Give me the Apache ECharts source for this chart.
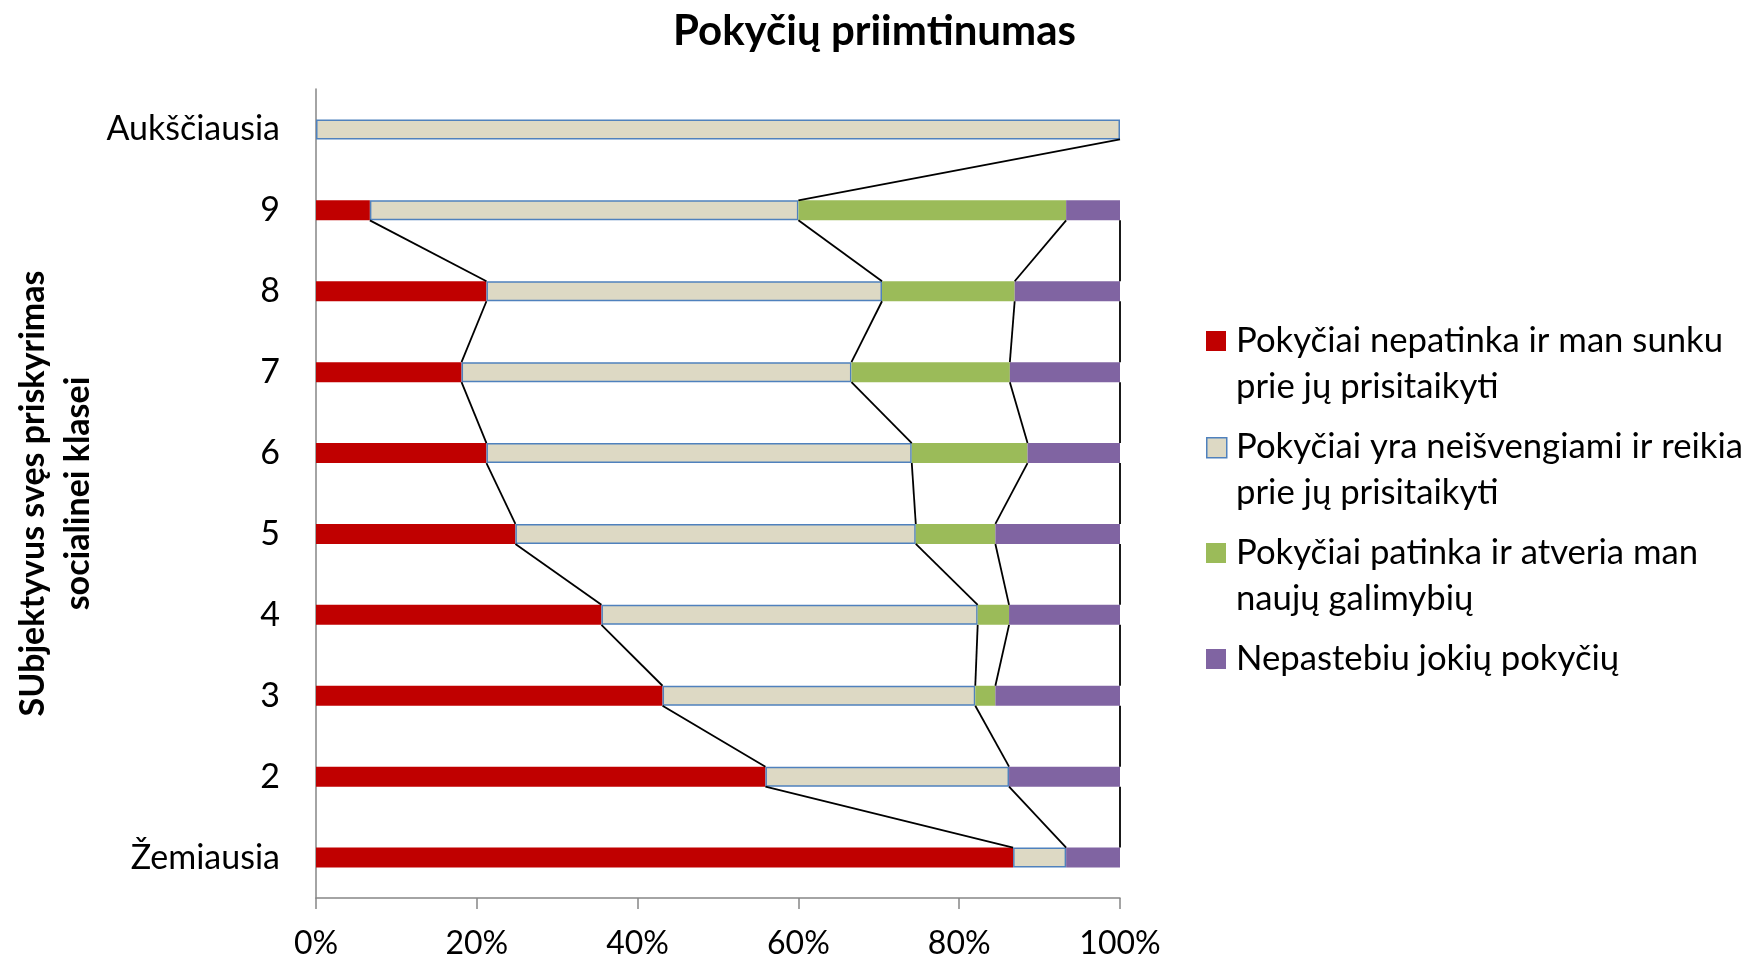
<!DOCTYPE html>
<html>
<head>
<meta charset="utf-8">
<script src="https://cdn.jsdelivr.net/npm/echarts@6/dist/echarts.min.js"></script>
<style>
  html, body { margin: 0; padding: 0; background: #fff; }
  #chart { width: 1749px; height: 963px; }
</style>
</head>
<body>
<div id="chart"></div>
<script>
const categories = ['Žemiausia', '2', '3', '4', '5', '6', '7', '8', '9', 'Aukščiausia']
const xTicks = [0, 20, 40, 60, 80, 100]

const seriesNames = [
  'Pokyčiai nepatinka ir man sunku\nprie jų prisitaikyti',
  'Pokyčiai yra neišvengiami ir reikia\nprie jų prisitaikyti',
  'Pokyčiai patinka ir atveria man\nnaujų galimybių',
  'Nepastebiu jokių pokyčių'
]

// procentai, nuo apačios (Žemiausia) iki viršaus (Aukščiausia)
const dislike = [86.7, 55.9, 43.1, 35.5, 24.8, 21.2, 18.1, 21.2, 6.7, 0]
const inevitable = [6.6, 30.3, 38.9, 46.8, 49.8, 52.9, 48.5, 49.2, 53.3, 100]
const like = [0, 0, 2.5, 3.9, 9.9, 14.4, 19.7, 16.5, 33.3, 0]
const noChange = [6.7, 13.8, 15.5, 13.8, 15.5, 11.5, 13.7, 13.1, 6.7, 0]

const colors = ['#C00000', '#DDD9C4', '#9BBB59', '#8064A2']
const FONT = 'Lato, "Open Sans", sans-serif'
const BAR_H = 20

const values = [dislike, inevitable, like, noChange]

// series lines (kaip Excel): jungia kiekvieno segmento galą tarp gretimų stulpelių
const connectors = []
values.forEach((vals, s) => {
  for (let i = 0; i < categories.length - 1; i++) {
    if (vals[i] > 0 && vals[i + 1] > 0) {
      let lo = 0, hi = 0
      for (let k = 0; k <= s; k++) {
        lo += values[k][i]
        hi += values[k][i + 1]
      }
      connectors.push([lo, hi, i])
    }
  }
})

const chart = echarts.init(document.getElementById('chart'))

const barSeries = values.map((vals, s) => ({
  name: seriesNames[s],
  type: 'bar',
  stack: 'total',
  barWidth: BAR_H,
  data: vals,
  itemStyle: s === 1
    ? { color: colors[s], borderColor: '#4F81BD', borderWidth: 1.5 }
    : { color: colors[s] },
  emphasis: { disabled: true },
  z: 2
}))

// legenda su žymekliu prie pirmos eilutės
const legendItems = []
const legendTop = 331
const legendPitch = 106
seriesNames.forEach((name, s) => {
  const y = legendTop + s * legendPitch
  legendItems.push({
    type: 'rect',
    left: 1206,
    top: y,
    shape: { width: 20, height: 20 },
    style: s === 1
      ? { fill: colors[s], stroke: '#4F81BD', lineWidth: 1.5 }
      : { fill: colors[s] }
  })
  legendItems.push({
    type: 'text',
    left: 1236,
    top: y - 13,
    style: {
      text: name,
      font: '34.7px ' + FONT,
      fill: '#000',
      lineHeight: 46
    }
  })
})

chart.setOption({
  backgroundColor: '#fff',
  animation: false,
  title: {
    text: 'Pokyčių priimtinumas',
    left: 'center',
    top: 5,
    textStyle: { fontFamily: FONT, fontSize: 42, fontWeight: 'bold', color: '#000' }
  },
  grid: { left: 316, right: 629, top: 89, bottom: 65, containLabel: false, outerBoundsMode: 'none' },
  xAxis: {
    type: 'value',
    min: xTicks[0],
    max: xTicks[xTicks.length - 1],
    interval: 20,
    splitLine: { show: false },
    axisLine: { show: true, lineStyle: { color: '#868686', width: 1.5 } },
    axisTick: { show: true, length: 11, lineStyle: { color: '#868686', width: 1.5 } },
    axisLabel: {
      margin: 30,
      formatter: '{value}%',
      fontFamily: FONT,
      fontSize: 32,
      color: '#000'
    }
  },
  yAxis: {
    type: 'category',
    data: categories,
    axisLine: { show: true, lineStyle: { color: '#868686', width: 1.5 } },
    axisTick: { show: false },
    axisLabel: { margin: 36, fontFamily: FONT, fontSize: 34, color: '#000' },
    name: 'SUbjektyvus svęs priskyrimas\nsocialinei klasei',
    nameLocation: 'middle',
    nameRotate: 90,
    nameGap: 215,
    nameTextStyle: {
      fontFamily: FONT,
      fontSize: 34,
      fontWeight: 'bold',
      color: '#000',
      lineHeight: 45,
      align: 'center'
    }
  },
  tooltip: { show: false },
  series: [
    ...barSeries,
    {
      type: 'custom',
      name: 'series lines',
      silent: true,
      z: 3,
      encode: { x: [0, 1], y: 2 },
      data: connectors,
      renderItem: (params, api) => {
        const idx = api.value(2)
        const lower = api.coord([api.value(0), idx])
        const upper = api.coord([api.value(1), idx + 1])
        return {
          type: 'line',
          shape: {
            x1: upper[0], y1: upper[1] + BAR_H / 2,
            x2: lower[0], y2: lower[1] - BAR_H / 2
          },
          style: { stroke: '#000', lineWidth: 1.8 }
        }
      }
    }
  ],
  graphic: legendItems
})
</script>
</body>
</html>
